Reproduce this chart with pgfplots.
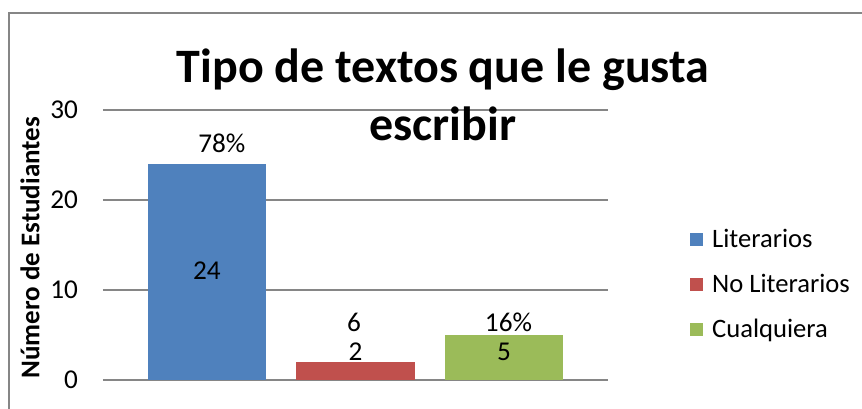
\documentclass[border=0pt]{standalone}
\usepackage{fontspec}
\setmainfont{Carlito}
\usepackage{pgfplots}
\pgfplotsset{compat=1.18}

\definecolor{serieA}{HTML}{4F81BD}
\definecolor{serieB}{HTML}{C0504D}
\definecolor{serieC}{HTML}{9BBB59}
\definecolor{rejilla}{HTML}{868686}

\begin{document}
\begin{tikzpicture}
% marco exterior (solo borde izquierdo y superior visibles)
\useasboundingbox (-51.5pt,-14pt) rectangle (379.5pt,190pt);
\draw[rejilla, line width=1pt] (-47pt,-20pt) -- (-47pt,183.5pt) -- (390pt,183.5pt);

\begin{axis}[
  scale only axis,
  width=252.5pt, height=135pt,
  ybar, bar shift=0pt, bar width=0.8,
  xmin=-0.7, xmax=2.7,
  ymin=0, ymax=30,
  ytick={0,10,20,30},
  xtick=\empty,
  ymajorgrids,
  major grid style={rejilla, line width=0.75pt},
  axis line style={draw=none},
  tick style={draw=none},
  tick label style={font=\fontsize{13.6}{16}\selectfont},
  yticklabel style={xshift=-9pt},
  /pgf/number format/assume math mode=true,
  ylabel={Número de Estudiantes},
  ylabel style={at={(-0.1446,0.49)}, anchor=center,
    font=\fontsize{13.5}{16}\selectfont\bfseries},
  legend style={draw=none, at={(1.162,0.352)}, anchor=west, inner sep=0pt,
    font=\fontsize{13.3}{16}\selectfont, row sep=10pt,
    nodes={inner xsep=4.5pt, inner ysep=1pt}},
  legend image code/.code={\fill[#1] (0pt,-3pt) rectangle (6.5pt,3.5pt);},
  legend cell align=left,
]
\addplot[draw=none, fill=serieA] coordinates {(0,24)};
\addplot[draw=none, fill=serieB] coordinates {(1,2)};
\addplot[draw=none, fill=serieC] coordinates {(2,5)};
\legend{Literarios, No Literarios, Cualquiera}

% etiquetas de datos
\begin{scope}[font=\fontsize{13.6}{16}\selectfont]
\node[anchor=base] at (axis cs:0.1,25.3) {78\%};
\node[anchor=base] at (axis cs:0.99,5.35) {6};
\node[anchor=base] at (axis cs:2.03,5.35) {16\%};
\node[anchor=base] at (axis cs:0,11.2) {24};
\node[anchor=base] at (axis cs:1,2.15) {2};
\node[anchor=base] at (axis cs:2,2.15) {5};
\end{scope}
\end{axis}

% titulo
\node[anchor=base, font=\fontsize{24}{29}\selectfont\bfseries] at (170pt,149pt) {Tipo de textos que le gusta};
\node[anchor=base, font=\fontsize{24}{29}\selectfont\bfseries] at (170pt,120pt) {escribir};
\end{tikzpicture}
\end{document}
